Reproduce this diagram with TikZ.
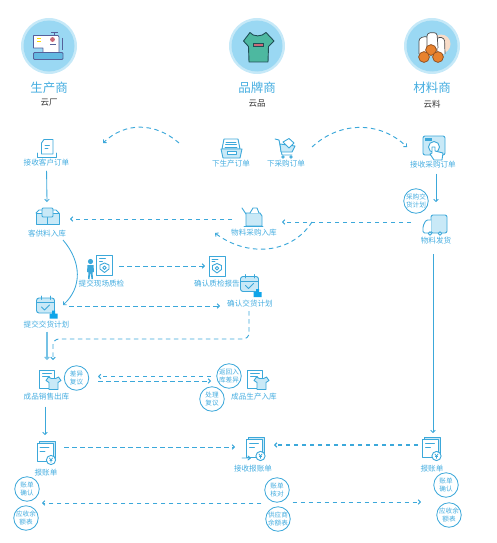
\documentclass[tikz,border=0pt]{standalone}
\usepackage{fontspec}
\setmainfont{Noto Sans CJK SC}
\usetikzlibrary{arrows.meta}
\definecolor{lab}{HTML}{45ADE0}
\definecolor{ln}{HTML}{3CA8DA}
\definecolor{pale}{HTML}{C9E9F7}
\definecolor{ring}{HTML}{C6E9F8}
\definecolor{disc}{HTML}{9AD8F3}
\definecolor{sblue}{HTML}{0FA5E9}
\definecolor{mach}{HTML}{55619A}
\definecolor{shirtg}{HTML}{4DB8A0}
\definecolor{shirtd}{HTML}{1F4E55}
\definecolor{ball}{HTML}{E8822E}
\definecolor{balld}{HTML}{8A4A1C}
\definecolor{peach}{HTML}{F8DCC8}
\definecolor{tagr}{HTML}{C86A78}
\tikzset{
  lbl/.style={text=lab,font=\fontsize{7.6}{9}\selectfont,inner sep=0pt},
  ttl/.style={text=lab,font=\fontsize{12.5}{14}\selectfont,inner sep=0pt},
  sub/.style={text=black!80,font=\fontsize{8.5}{10}\selectfont,inner sep=0pt},
  bub/.style={circle,draw=ln,line width=.8pt,fill=white,minimum size=24.5pt,inner sep=0pt,align=center,text=lab,font=\fontsize{6.6}{8.4}\selectfont},
  box/.style={inner sep=0pt,outer sep=0pt},
  ic/.style={draw=ln,line width=.9pt,line join=round,line cap=round},
  dsh/.style={draw=ln,line width=.95pt,dash pattern=on 4.5pt off 3.5pt,-{Straight Barb[length=2.2pt,width=4.5pt]}},
  sol/.style={draw=ln,line width=.85pt,-{Straight Barb[length=2.2pt,width=4.5pt]}},
}
\newcommand\calicon[2]{\begin{scope}[shift={(#1,#2)}]
  \draw[ic,fill=pale,rounded corners=2.5pt] (0,2) rectangle (18,17);
  \draw[ic] (0,6.5)--(18,6.5) (4.5,0)--(4.5,3.5) (13.5,0)--(13.5,3.5);
  \draw[ic] (5,11)--(8,14)--(13,9);
  \fill[sblue] (13,17.5) rectangle (21,22.5) (15.5,14.5) rectangle (18.5,18);
\end{scope}}
\newcommand\yendoc[2]{\begin{scope}[shift={(#1,#2)}]
  \draw[ic,fill=pale] (2,0) rectangle (18,17);
  \draw[ic,fill=white] (0,2) rectangle (16,20);
  \draw[ic] (3,6)--(12,6) (3,9.5)--(8,9.5);
  \draw[ic,fill=white] (14,18.5) circle (4.6);
  \draw[draw=ln,line width=.7pt] (12.3,16.3)--(14,18.5)--(15.7,16.3) (14,18.5)--(14,21) (12.6,19)--(15.4,19);
\end{scope}}
\newcommand\shirtdoc[2]{\begin{scope}[shift={(#1,#2)}]
  \draw[ic,fill=white] (0,0) rectangle (15,18);
  \draw[ic] (3,3.5)--(12,3.5) (3,6.5)--(10,6.5);
  \draw[ic,fill=pale] (9,7)--(12,8.5)--(16,8.5)--(19,7)--(21.5,10.5)--(18.5,12.5)--(18.5,19.5)--(9.5,19.5)--(9.5,12.5)--(6.5,10.5)--cycle;
\end{scope}}
\newcommand\shielddoc[2]{\begin{scope}[shift={(#1,#2)}]
  \draw[ic,fill=white] (0,0) rectangle (16,20);
  \draw[ic] (3,3)--(9,3) (3,5.5)--(6,5.5);
  \draw[ic] (8,7.5)--(12.5,9.5)--(12.5,13.5)--(8,17)--(3.5,13.5)--(3.5,9.5)--cycle;
  \draw[ic] (8,12.2) circle (1.8);
\end{scope}}
\begin{document}
\begin{tikzpicture}[x=1pt,y=-1pt]
\useasboundingbox (0,0) rectangle (497,543);
% head discs
\foreach \cx in {49,257,432}{
  \fill[ring] (\cx,46) circle (28);
  \fill[disc] (\cx,46) circle (25.5);
}
% sewing machine
\draw[draw=mach,line width=.8pt,fill=white,line join=round] (33.5,35.5)--(58,35.5)--(59,37)--(59,52.5)--(43,52.5)--(43,48)--(33.5,48)--cycle;
\draw[draw=mach,line width=.8pt,fill=ln!80,rounded corners=1pt] (33.5,52.5) rectangle (63,59.5);
\draw[draw=mach,line width=.7pt] (62,38)--(62,50) (51,32.5)--(58,32.5) (54.5,32.5)--(54.5,35.5) (50,44.5)--(56,44.5);
\draw[yellow!80!orange,line width=.8pt] (37,38)--(40.5,38) (37,41)--(40.5,41);
\fill[tagr] (52.5,39.5) circle (2.4);
% t-shirt
\draw[draw=shirtd,line width=.9pt,fill=shirtg,line join=round]
  (250,32.5)..controls (253,37) and (262,37)..(266,32.5)--(274,41)--(268.5,46.5)--(268,62)--(249,62)--(248.5,46.5)--(243.5,41)--cycle;
\draw[draw=shirtd,line width=.6pt,fill=tagr] (253,43.5) rectangle (263,46.5);
% rolls
\fill[peach] (441,44) circle (9.5);
\draw[draw=black!70,line width=.7pt,fill=white,rounded corners=3pt] (419,54)--(419,38)--(428,36)--(428,54);
\draw[draw=black!70,line width=.7pt,fill=white,rounded corners=3pt] (437,54)--(437,37)--(444.5,38)--(445,54);
\draw[draw=black!70,line width=.7pt,fill=white,rounded corners=3pt] (427,48)--(427,33)--(437,32.5)--(438,48);
\foreach \bx/\by in {431/50,424/57,438/57}{\draw[draw=balld,line width=.7pt,fill=ball] (\bx,\by) circle (5.4);}
% headings
\node[ttl] (t1) at (49,88) {生产商};
\node[sub] (s1) at (49,103) {云厂};
\node[ttl] (t2) at (257,88) {品牌商};
\node[sub] (s2) at (257,103) {云品};
\node[ttl] (t3) at (432,88) {材料商};
\node[sub] (s3) at (432,104) {云料};
% icon: order doc
\draw[ic,fill=white] (41.5,143)--(44,139.5)--(53,139.5)--(53,154)--(41.5,154)--cycle;
\draw[ic] (45,145)--(49.5,145) (45,148)--(48,148) (37.5,153)--(37.5,157)--(56,157)--(56,153);
% icon: tray
\draw[ic,fill=white] (224,139)--(238,139)--(240,149)--(222,149)--cycle;
\draw[ic] (226,142)--(236,142) (225.5,144.5)--(236.5,144.5) (225,147)--(237,147);
\draw[ic,fill=pale] (221,149)--(242,149)--(240,158)--(223,158)--cycle;
\draw[ic,fill=white] (227,151.5) rectangle (236,154);
% icon: cart
\draw[ic] (275,139)--(279,140)--(282,155)--(292,155);
\draw[ic,fill=pale] (280,144)--(295,146)--(292,152)--(281,152)--cycle;
\draw[ic,fill=white] (283,142)--(289,138.5)--(294,143)--(289,148)--cycle;
\draw[ic,fill=white] (283,157) circle (1.3) (291,157) circle (1.3);
% icon: screen + hand
\draw[ic,fill=pale,rounded corners=2pt] (423,136) rectangle (445,155);
\fill[ln] (425,138) rectangle (432,141);
\draw[ic,fill=white] (434,147) circle (5.5);
\draw[ic,fill=white] (432,147)--(435,147)--(435,151)--(443,153)--(442,160)--(434,160)--(430,154)--(432,153)--cycle;
% icon: blocks
\draw[ic,fill=pale] (36,213) rectangle (47,224);
\draw[ic,fill=pale] (47,213) rectangle (59,224);
\draw[ic,fill=pale,rounded corners=1pt] (42,208) rectangle (53,217);
\draw[ic] (36,213)--(39,210)--(42,210) (59,213)--(56,210)--(53,210);
% icon: purchase in
\draw[ic] (242,208)--(246,214);
\draw[ic,fill=pale] (246,213)--(260,213)--(262,216)--(262,226)--(246,226)--cycle;
\draw[ic] (244,226.5)--(263,226.5);
\draw[ic,fill=white] (250,213)--(253,208)--(257,208)--(259,213);
% icon: truck
\draw[ic,fill=pale,rounded corners=2pt] (431,215) rectangle (447,233);
\draw[ic,fill=white,rounded corners=1.5pt] (431,220)--(426,220)--(423,226)--(423,233)--(431,233);
\draw[ic,fill=white] (430,233.5) circle (1.8) (440,233.5) circle (1.8);
% person
\fill[ln] (90.5,261.5) circle (2.6);
\fill[ln] (87.5,265)--(93.5,265)--(94,272)--(92.5,272)--(93,279)--(91.5,279)--(90.5,272)--(89.5,279)--(88,279)--(88.5,272)--(87,272)--cycle;
\shielddoc{96.5}{255.5}
\shielddoc{209}{256}
\calicon{240.5}{274.5}
\calicon{36.5}{296}
\shirtdoc{39.5}{370}
\shirtdoc{247.5}{370}
\yendoc{37}{441.5}
\yendoc{422.5}{437.5}
\yendoc{246.5}{437.5}
\draw[ic] (242,458)--(250,458) (248,456)--(250.5,458)--(248,460);
% labels
\node[lbl] (lA) at (46.5,163) {接收客户订单};
\node[lbl] (lB) at (231,164) {下生产订单};
\node[lbl] (lC) at (286,164) {下采购订单};
\node[lbl] (lD) at (433,165) {接收采购订单};
\node[lbl] (lE) at (47,234) {客供料入库};
\node[lbl] (lF) at (254,233) {物料采购入库};
\node[lbl] (lG) at (436,241) {物料发货};
\node[lbl] (lH) at (101.5,284) {提交现场质检};
\node[lbl] (lI) at (217,284) {确认质检报告};
\node[lbl] (lJ) at (250,304) {确认交货计划};
\node[lbl] (lK) at (46.5,325) {提交交货计划};
\node[lbl] (lL) at (46.5,397) {成品销售出库};
\node[lbl] (lM) at (254,397) {成品生产入库};
\node[lbl] (lN) at (46,473) {报账单};
\node[lbl] (lO) at (253,469) {接收报账单};
\node[lbl] (lP) at (432,469) {报账单};
% bubbles
\node[bub] (b1) at (416,201) {采购交\\货计划};
\node[bub] (b2) at (76.5,378) {差异\\复议};
\node[bub] (b3) at (229,376) {返回入\\库差异};
\node[bub] (b4) at (212,399) {处理\\复议};
\node[bub] (b5) at (27,489) {账单\\确认};
\node[bub] (b6) at (26,518) {应收余\\额表};
\node[bub] (b7) at (277,490) {账单\\核对};
\node[bub] (b8) at (278,519) {供应商\\余额表};
\node[bub] (b9) at (446,485) {账单\\确认};
\node[bub] (b10) at (449,515) {应收余\\额表};
% invisible anchor boxes round the icons
\node[box,minimum width=46pt,minimum height=34pt] (iE) at (47,219) {};
\node[box,minimum width=44pt,minimum height=24pt] (iF) at (254,219) {};
\node[box,minimum width=50pt,minimum height=40pt] (iG) at (436,222) {};
\node[box,minimum width=26pt,minimum height=14pt] (iH) at (106,266) {};
\node[box,minimum width=24pt,minimum height=14pt] (iI) at (217,266) {};
\node[box,minimum width=42pt,minimum height=14pt] (iK) at (48,306) {};
\node[box,minimum width=60pt,minimum height=14pt] (iJ) at (250,306) {};
\node[box,minimum width=36pt,minimum height=42pt] (iL) at (47,381) {};
\node[box,minimum width=38pt,minimum height=24pt] (iN) at (45,447) {};
\node[box,minimum width=38pt,minimum height=24pt] (iO) at (254,447) {};
\node[box,minimum width=30pt,minimum height=24pt] (iP) at (433,445) {};
\coordinate (arcAa) at (179,143);
\coordinate (arcAb) at (103,143);
\coordinate (arcBa) at (312,147);
\coordinate (arcBb) at (407,147);
\coordinate (arcCa) at (312,222);
\coordinate (arcCb) at (215,233);
\coordinate (arrF) at (282,222);
\coordinate (kneeA) at (249,311);
\coordinate (kneeB) at (53,360);
\coordinate (dblR) at (98,376.5);
\coordinate (dblL) at (98,381);
\coordinate (dblRr) at (211,376.5);
\coordinate (dblLr) at (211,381);
\coordinate (botL) at (42,503);
\coordinate (botR) at (421,502);
\coordinate (lPtop) at (433,254);
\coordinate (arrO) at (274,445);
\coordinate (curEnd) at (63,305);
\coordinate (curBeg) at (63,240);
% connectors
\draw[dsh] (arcAa) .. controls (155,122) and (125,122) .. (arcAb);
\draw[dsh] (arcBa) .. controls (340,121) and (380,121) .. (arcBb);
\draw[sol,shorten <=4pt] (lA.south) -- (iE.north);
\draw[sol,shorten <=5pt] (iG.north |- lD.south) -- (iG.north);
\draw[dsh] (iF.west) -- (iE.east);
\draw[dsh] (iG.west) -- (arrF);
\draw[dsh] (arcCa) .. controls (290,256) and (245,256) .. (arcCb);
\draw[sol] (curBeg) .. controls (82,262) and (82,288) .. (curEnd);
\draw[dsh] (iH.east) -- (iI.west);
\draw[dsh] (iK.east) -- (iJ.west);
\draw[dsh,rounded corners=6pt] (kneeA) -- (249,339) -- (53,339) -- (kneeB);
\draw[sol,draw=ln!70,line width=1.2pt,shorten <=3pt] (iL.north |- lK.south) -- (iL.north);
\draw[dsh] (dblRr) -- (dblR);
\draw[dsh] (dblL) -- (dblLr);
\draw[sol,shorten <=6pt] (iN.north |- lL.south) -- (iN.north);
\draw[dsh] (iN.east) -- (iO.west);
\draw[sol] (lPtop) -- (iP.north);
\draw[dsh,line width=1.1pt] (iP.west) -- (arrO);
\draw[dsh] ([xshift=-3pt]b7.west |- botL) -- (botL);
\draw[dsh] ([xshift=3pt]b7.east |- botR) -- (botR);
\end{tikzpicture}
\end{document}
